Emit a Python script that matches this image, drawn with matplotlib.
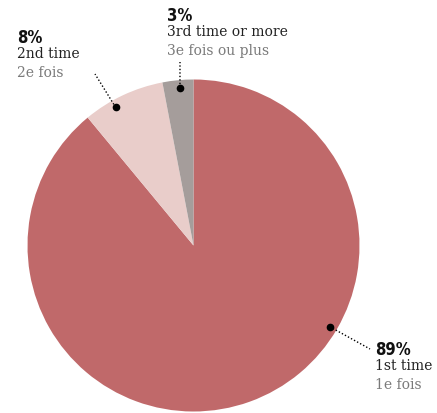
import numpy as np
import matplotlib.pyplot as plt

# data
shares = [89, 8, 3]
pct_labels = ['89%', '8%', '3%']
en_labels = ['1st time', '2nd time', '3rd time or more']
fr_labels = ['1e fois', '2e fois', '3e fois ou plus']
colors = ['#c0696a', '#e9cdca', '#a59d9b']

W, H = 437, 413
fig = plt.figure(figsize=(W / 100, H / 100), dpi=100)
ax = fig.add_axes([0, 0, 1, 1])
ax.set_xlim(0, W)
ax.set_ylim(0, H)
ax.set_aspect('equal')
ax.axis('off')

cx, cy, r = 193.5, H - 245.5, 166
ax.pie(shares, colors=colors, startangle=90, counterclock=False,
       center=(cx, cy), radius=r, wedgeprops=dict(linewidth=0))
ax.set_xlim(0, W)
ax.set_ylim(0, H)

# label settings: dot angle, text anchor (px from top-left), leader end
dot_angles = [-30.8, 119.4, 94.9]
text_pos = [(375, 340), (17, 28), (167, 6)]
leader_end = [(370, 349), (95, 74), (180, 62)]

serif = 'DejaVu Serif'
for i in range(3):
    a = np.radians(dot_angles[i])
    dx, dy = cx + 0.955 * r * np.cos(a), cy + 0.955 * r * np.sin(a)
    ex, ey = leader_end[i]
    ax.plot([dx, ex], [dy, H - ey], color='black', lw=1, ls=(0, (1, 1.5)))
    ax.plot(dx, dy, 'o', color='black', ms=4.5)
    tx, ty = text_pos[i]
    ax.text(tx, H - ty - 1, pct_labels[i], fontsize=12, fontweight='heavy',
            fontstretch='condensed', family='DejaVu Sans', color='#111111',
            va='top', ha='left')
    ax.text(tx, H - ty - 19, en_labels[i], fontsize=10, family=serif,
            color='#222222', va='top', ha='left')
    ax.text(tx, H - ty - 38, fr_labels[i], fontsize=10, family=serif,
            color='#7a7a7a', va='top', ha='left')

fig.savefig('out.png', dpi=100)
